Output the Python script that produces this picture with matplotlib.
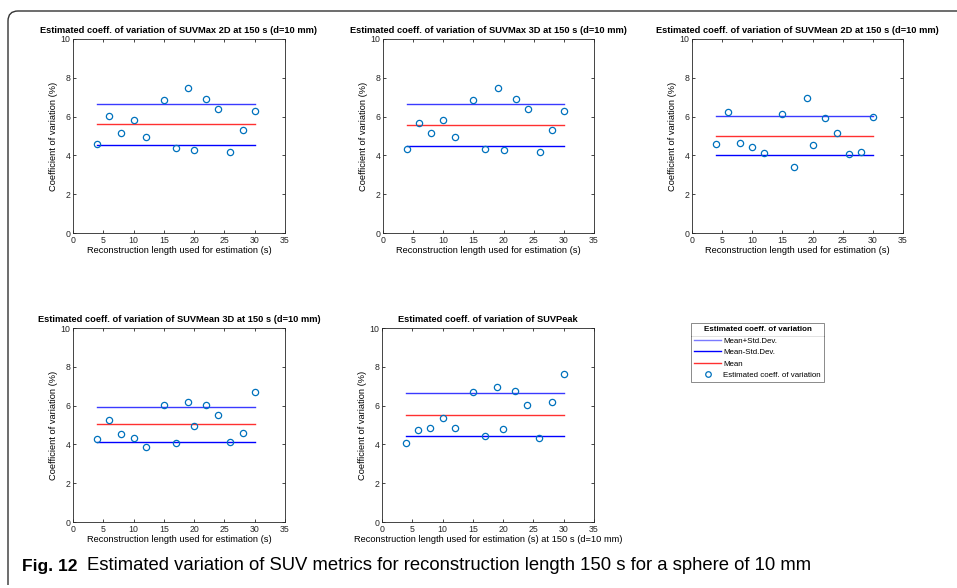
import matplotlib.pyplot as plt
from matplotlib.lines import Line2D
from matplotlib.path import Path
from matplotlib.patches import PathPatch

plt.rcParams['font.family'] = ['Liberation Sans', 'DejaVu Sans']

# reconstruction lengths (s)
recon_len = [4, 6, 8, 10, 12, 15, 17, 19, 20, 22, 24, 26, 28, 30]

titles = [
    'Estimated coeff. of variation of SUVMax 2D at 150 s (d=10 mm)',
    'Estimated coeff. of variation of SUVMax 3D at 150 s (d=10 mm)',
    'Estimated coeff. of variation of SUVMean 2D at 150 s (d=10 mm)',
    'Estimated coeff. of variation of SUVMean 3D at 150 s (d=10 mm)',
    'Estimated coeff. of variation of SUVPeak',
]
xlabels = [
    'Reconstruction length used for estimation (s)',
    'Reconstruction length used for estimation (s)',
    'Reconstruction length used for estimation (s)',
    'Reconstruction length used for estimation (s)',
    'Reconstruction length used for estimation (s) at 150 s (d=10 mm)',
]

cv_max2d = [4.59, 6.02, 5.17, 5.81, 4.97, 6.86, 4.38, 7.50, 4.29, 6.90, 6.38, 4.19, 5.33, 6.29]
cv_max3d = [4.31, 5.67, 5.14, 5.81, 4.97, 6.86, 4.34, 7.50, 4.28, 6.90, 6.38, 4.19, 5.33, 6.29]
cv_mean2d = [4.57, 6.26, 4.64, 4.43, 4.12, 6.12, 3.41, 6.95, 4.52, 5.91, 5.17, 4.05, 4.16, 5.98]
cv_mean3d = [4.26, 5.28, 4.52, 4.33, 3.88, 6.05, 4.09, 6.21, 4.97, 6.05, 5.50, 4.14, 4.57, 6.69]
cv_peak = [4.07, 4.72, 4.83, 5.36, 4.86, 6.71, 4.41, 6.95, 4.79, 6.76, 6.05, 4.34, 6.17, 7.64]

# mean, mean+std, mean-std
means = [5.63, 5.57, 5.00, 5.03, 5.53]
upper = [6.67, 6.66, 6.03, 5.93, 6.67]
lower = [4.55, 4.50, 4.00, 4.10, 4.43]

series = [cv_max2d, cv_max3d, cv_mean2d, cv_mean3d, cv_peak]

W, H = 957, 588
fig = plt.figure(figsize=(W / 100, H / 100), dpi=100)

# axes boxes in pixels: left, top, right, bottom
boxes = [(73, 39, 285, 233), (383, 39, 594, 233), (692, 39, 903, 233),
         (73, 328, 285, 522), (382, 328, 594, 522)]

mblue = '#0072BD'
for i, (l, t, r, b) in enumerate(boxes):
    ax = fig.add_axes([l / W, (H - b) / H, (r - l) / W, (b - t) / H])
    x0, x1 = recon_len[0], recon_len[-1]
    ax.plot([x0, x1], [upper[i], upper[i]], color='#3a3aff', lw=1.0)
    ax.plot([x0, x1], [lower[i], lower[i]], color='#0000ff', lw=1.0)
    ax.plot([x0, x1], [means[i], means[i]], color='#ff3030', lw=1.0)
    ax.plot(recon_len, series[i], 'o', mfc='none', mec=mblue, ms=4.5, mew=0.9)
    ax.set_xlim(0, 35)
    ax.set_ylim(0, 10)
    ax.set_xticks(range(0, 36, 5))
    ax.set_yticks(range(0, 11, 2))
    ax.tick_params(direction='in', length=2, width=0.6, labelsize=6.3,
                   top=True, right=True, pad=2, colors='#262626')
    for s in ax.spines.values():
        s.set_linewidth(0.6)
        s.set_color('#262626')
    ax.set_title(titles[i], fontsize=6.7, fontweight='bold', pad=4.5)
    ax.set_xlabel(xlabels[i], fontsize=6.7, labelpad=1)
    ax.set_ylabel('Coefficient of variation (%)', fontsize=6.7, labelpad=2)

# legend
handles = [
    Line2D([], [], color='#7a7aff', lw=1.0),
    Line2D([], [], color='#0000ff', lw=1.0),
    Line2D([], [], color='#ff3030', lw=1.0),
    Line2D([], [], marker='o', ls='none', mfc='none', mec=mblue, ms=4, mew=0.9),
]
labels = ['Mean+Std.Dev.', 'Mean-Std.Dev.', 'Mean', 'Estimated coeff. of variation']
leg = fig.legend(handles, labels, loc='upper left',
                 bbox_to_anchor=(691 / W, (H - 323) / H),
                 title='Estimated coeff. of variation', fontsize=5.7,
                 title_fontproperties={'size': 5.8, 'weight': 'bold'},
                 frameon=True, fancybox=False, edgecolor='#555555',
                 borderpad=0.4, labelspacing=0.5, handlelength=3.4,
                 handletextpad=0.3, borderaxespad=0)
leg.get_frame().set_linewidth(0.6)

# separator under the legend title, as wide as the legend box
fig.canvas.draw()
lb = leg.get_window_extent()
fig.add_artist(Line2D([lb.x0 / W, lb.x1 / W], [(H - 335.5) / H, (H - 335.5) / H],
                      color='#555555', lw=0.6, transform=fig.transFigure))

# page frame with rounded corner
rad = 10
verts = [(W, H - 11), (8 + rad, H - 11), (8, H - 11), (8, H - 11 - rad), (8, 3)]
codes = [Path.MOVETO, Path.LINETO, Path.CURVE3, Path.CURVE3, Path.LINETO]
frame = PathPatch(Path([(x / W, y / H) for x, y in verts], codes),
                  fill=False, lw=1.0, edgecolor='#333333', transform=fig.transFigure)
fig.add_artist(frame)

# caption
fig.text(22 / W, (H - 566) / H, 'Fig. 12', fontsize=12.5, fontweight='bold',
         va='center', ha='left')
fig.text(87 / W, (H - 566) / H,
         'Estimated variation of SUV metrics for reconstruction length 150 s for a sphere of 10 mm',
         fontsize=13.3, va='center', ha='left')

fig.savefig('out.png', dpi=100)
